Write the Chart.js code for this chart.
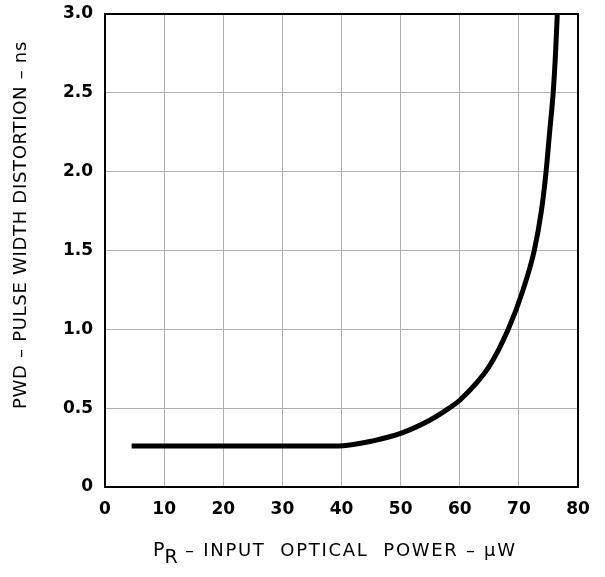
<!DOCTYPE html>
<html>
<head>
<meta charset="utf-8">
<script src="https://cdn.jsdelivr.net/npm/chart.js@4"></script>
<style>
  html, body { margin: 0; padding: 0; background: #fff; }
  #wrap { width: 605px; height: 577px; }
</style>
</head>
<body>
<div id="wrap"><canvas id="pwdChart"></canvas></div>
<script>
// PWD vs input optical power
const powerUW = [4.5, 10, 20, 30, 39, 42, 45, 50, 55, 58.2, 60, 64.9, 68.2, 70.7, 72.6, 73.8, 74.6, 75.2, 75.8, 76.2, 76.5];
const pwdNs = [0.26, 0.26, 0.26, 0.26, 0.26, 0.27, 0.29, 0.34, 0.425, 0.5, 0.55, 0.76, 1.0, 1.25, 1.5, 1.75, 2.0, 2.25, 2.5, 2.75, 3.0];

const xTicks = [0, 10, 20, 30, 40, 50, 60, 70, 80];
const yTicks = [0, 0.5, 1.0, 1.5, 2.0, 2.5, 3.0];

const yTitle = 'PWD – PULSE WIDTH DISTORTION – ns';
const xTitleMain = 'P';
const xTitleSub = 'R';
const xTitleRest = ' – INPUT  OPTICAL  POWER – µW';

const points = powerUW.map((x, i) => ({ x: x, y: pwdNs[i] }));

const fontFamily = '"DejaVu Sans", "Liberation Sans", sans-serif';

// frame round the plot and the two axis titles (subscript needs manual drawing)
const framePlugin = {
  id: 'frame',
  afterDatasetsDraw(chart) {
    const { ctx, chartArea: a } = chart;
    ctx.save();
    ctx.strokeStyle = '#000';
    ctx.lineWidth = 2;
    ctx.strokeRect(a.left, a.top, a.right - a.left, a.bottom - a.top);
    ctx.restore();
  },
  afterDraw(chart) {
    const ctx = chart.ctx;
    ctx.save();
    ctx.fillStyle = '#000';
    ctx.textBaseline = 'middle';

    // y title, rotated
    ctx.save();
    ctx.font = '18px ' + fontFamily;
    ctx.letterSpacing = '0.7px';
    ctx.translate(21, 225);
    ctx.rotate(-Math.PI / 2);
    ctx.textAlign = 'center';
    ctx.fillText(yTitle, 0, 0);
    ctx.restore();

    // x title with subscript R
    ctx.textAlign = 'left';
    let x = 153;
    const y = 551;
    ctx.font = '19px ' + fontFamily;
    ctx.fillText(xTitleMain, x, y);
    x += ctx.measureText(xTitleMain).width;
    ctx.fillText(xTitleSub, x, y + 7);
    x += ctx.measureText(xTitleSub).width;
    ctx.font = '18px ' + fontFamily;
    ctx.letterSpacing = '1.7px';
    ctx.fillText(xTitleRest, x, y);
    ctx.restore();
  }
};

const tickFont = { family: fontFamily, size: 17, weight: 'bold' };

new Chart(document.getElementById('pwdChart'), {
  type: 'line',
  data: {
    datasets: [
      {
        data: points,
        borderColor: '#000',
        borderWidth: 5,
        pointRadius: 0,
        fill: false,
        cubicInterpolationMode: 'monotone'
      }
    ]
  },
  options: {
    responsive: true,
    maintainAspectRatio: false,
    animation: false,
    layout: { padding: { top: 14, right: 27, left: 0, bottom: 0 } },
    plugins: {
      legend: { display: false },
      tooltip: { enabled: false }
    },
    scales: {
      x: {
        type: 'linear',
        min: 0,
        max: 80,
        afterBuildTicks: (s) => { s.ticks = xTicks.map((v) => ({ value: v })); },
        afterFit: (s) => { s.height = 90; s.paddingLeft = 0; s.paddingRight = 0; },
        grid: { color: '#b0b0b0', lineWidth: 1, drawTicks: false },
        border: { display: false },
        ticks: { color: '#000', font: tickFont, padding: 12, maxRotation: 0, autoSkip: false }
      },
      y: {
        type: 'linear',
        min: 0,
        max: 3,
        afterBuildTicks: (s) => { s.ticks = yTicks.map((v) => ({ value: v })); },
        afterFit: (s) => { s.width = 105; s.paddingTop = 0; s.paddingBottom = 0; },
        grid: { color: '#b0b0b0', lineWidth: 1, drawTicks: false },
        border: { display: false },
        ticks: {
          color: '#000',
          font: tickFont,
          padding: 12,
          callback: (v) => (v === 0 ? '0' : v.toFixed(1))
        }
      }
    }
  },
  plugins: [framePlugin]
});
</script>
</body>
</html>
